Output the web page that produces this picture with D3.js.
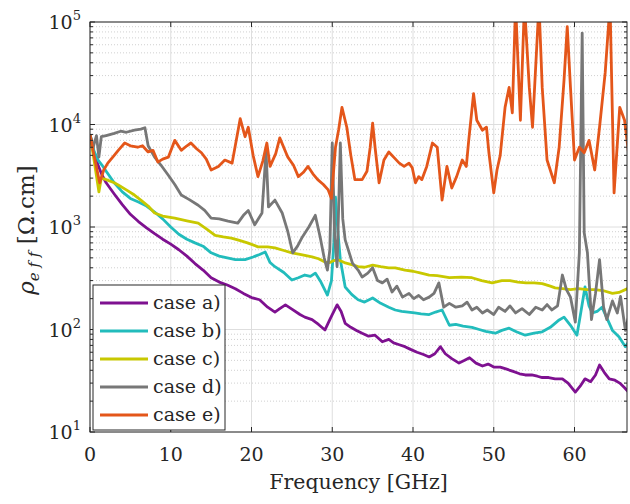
<!DOCTYPE html>
<html>
<head>
<meta charset="utf-8">
<script src="https://cdn.jsdelivr.net/npm/d3@7"></script>
<style>
  body { margin: 0; background: #fff; }
  svg text { font-family: 'DejaVu Serif', 'Times New Roman', Times, serif; }
</style>
</head>
<body>
<div id="chart"></div>
<script>
// data (frequency in GHz, rho_eff in Ohm.cm)
var freqA = [0, 0.5, 1, 1.5, 2, 3, 4, 5, 6, 7, 8, 9, 10, 11, 12, 13, 14, 15, 16, 17, 18, 19, 20, 21, 22, 22.9, 23.5, 24.2, 25, 26, 26.6, 27.5, 28.3, 29.1, 29.8, 30.6, 31.1, 31.6, 32.3, 33, 33.7, 34.5, 35.3, 36.2, 37, 37.6, 38.3, 39, 39.7, 40.5, 41.3, 42, 42.7, 43.4, 44, 44.8, 45.7, 46.4, 47, 47.8, 48.6, 49.3, 50, 50.8, 51.6, 52.4, 53.2, 53.9, 54.7, 55.4, 56, 56.8, 57.6, 58.5, 59.2, 60.1, 60.7, 61.3, 62, 62.6, 63.1, 63.7, 64.3, 65, 65.6, 66.2, 66.8];
var rhoA = [8000, 5200, 4000, 3200, 2700, 2100, 1650, 1330, 1130, 980, 860, 760, 680, 600, 520, 440, 380, 320, 290, 272, 250, 225, 205, 195, 165, 148, 160, 174, 158, 140, 132, 125, 112, 99, 130, 174, 150, 115, 105, 98, 92, 86, 88, 76, 80, 74, 71, 68, 64, 60, 57, 54, 58, 68, 58, 52, 47, 50, 53, 47, 44, 46, 43, 43, 41, 39, 37, 36, 36, 35, 34, 34, 33, 33, 30, 24.5, 28, 33, 31, 36, 45, 38, 33, 32, 30, 27, 24];

var freqB = [0, 0.5, 1, 1.5, 2, 3, 4, 5, 6, 7, 8, 9, 10, 11, 12, 13, 14, 15, 16, 17, 18, 19.2, 20.2, 21, 21.7, 22.3, 22.9, 24, 25, 25.8, 26.6, 27.3, 27.9, 28.6, 29.4, 29.9, 30.2, 30.4, 30.7, 31, 31.6, 32.4, 33.2, 34, 35, 36, 37, 37.8, 38.6, 39.4, 40.2, 41, 42, 42.8, 43.6, 44.5, 45.3, 46.2, 47.3, 48.2, 49, 50.2, 51, 51.9, 52.8, 53.9, 55, 56, 57, 58.1, 58.7, 59.5, 60.3, 60.8, 61.3, 61.8, 62.2, 62.8, 63.4, 64, 64.7, 65.5, 66.3, 66.8];
var rhoB = [8000, 5500, 4500, 4000, 3500, 2700, 2200, 1900, 1750, 1600, 1400, 1200, 1000, 850, 760, 700, 650, 560, 520, 500, 480, 480, 510, 540, 570, 450, 410, 360, 304, 320, 340, 330, 355, 290, 217, 300, 700, 1950, 900, 480, 260, 220, 195, 185, 203, 180, 165, 155, 150, 148, 145, 142, 140, 148, 155, 110, 112, 108, 105, 100, 96, 92, 98, 103, 95, 88, 92, 95, 105, 124, 132, 110, 88, 150, 260, 170, 145, 150, 165, 130, 98, 85, 68, 78];

var freqC = [0, 0.5, 1.1, 1.4, 2, 3, 3.5, 4.5, 5.5, 6.3, 7.2, 8, 9, 10.5, 12, 13.4, 14.5, 15.5, 16.5, 17.5, 18.5, 19.5, 20.8, 22, 22.9, 24, 25, 26, 27.5, 28.3, 29.1, 29.7, 30.2, 30.7, 31.5, 32.4, 33.2, 34, 35, 36, 37, 37.8, 39, 40, 41, 42, 43, 44.5, 46, 47.3, 48.5, 49.8, 51, 52, 53, 54, 55, 56, 57, 57.6, 58.5, 59.5, 60.5, 61.5, 62.5, 63.5, 64.7, 65.5, 66.8];
var rhoC = [8000, 4500, 2200, 3000, 2900, 2700, 2570, 2300, 2050, 1830, 1600, 1370, 1280, 1220, 1150, 1090, 950, 830, 800, 780, 740, 700, 640, 640, 625, 590, 560, 540, 510, 490, 455, 450, 470, 480, 450, 430, 410, 405, 425, 410, 400, 400, 380, 370, 355, 340, 335, 320, 325, 320, 300, 285, 300, 300, 290, 285, 285, 280, 265, 255, 250, 245, 250, 245, 245, 240, 225, 230, 255];

var freqD = [0, 0.4, 0.8, 1.1, 1.4, 2, 3, 3.8, 4.5, 5.5, 6.3, 6.8, 7.2, 8, 8.8, 9.7, 10.5, 11.3, 12.3, 13.4, 14.2, 15, 16, 17.1, 18.3, 19, 19.6, 20.4, 21.3, 21.8, 22.1, 22.9, 23.8, 24.5, 25.1, 25.7, 26.3, 27.1, 27.9, 28.5, 29, 29.4, 29.7, 30, 30.3, 30.6, 31, 31.3, 31.6, 32.5, 33.2, 33.7, 34.4, 35, 35.6, 36.2, 36.8, 37.4, 38, 38.7, 39.5, 40.1, 40.7, 41.3, 42, 42.6, 43.2, 43.8, 44.5, 45.3, 46.1, 46.7, 47.3, 47.9, 48.6, 49.2, 50, 50.6, 51.4, 52, 52.7, 53.5, 54.4, 55.2, 56, 56.6, 57.2, 57.9, 58.5, 59, 59.5, 60.1, 60.6, 60.95, 61.2, 61.6, 62.1, 62.6, 63.1, 63.6, 64, 64.7, 65.3, 65.7, 66.3, 66.8];
var rhoD = [8000, 6000, 7800, 4800, 7600, 7800, 8200, 8600, 8400, 8800, 9000, 9300, 6200, 4800, 4000, 3200, 2600, 2050, 1850, 1630, 1450, 1220, 1200, 1140, 1090, 1300, 1450, 1050, 1370, 5500, 1570, 1830, 1370, 900, 560, 650, 800, 1000, 1300, 800, 500, 380, 600, 6600, 800, 410, 6600, 1200, 750, 445, 380, 325, 355, 400, 300, 285, 310, 232, 265, 207, 225, 200, 215, 195, 207, 225, 285, 165, 180, 165, 170, 185, 155, 165, 145, 155, 140, 165, 150, 170, 145, 160, 140, 165, 155, 175, 155, 170, 340, 245, 207, 118, 560, 78000, 880, 560, 125, 225, 480, 165, 125, 190, 145, 210, 98, 145];

var freqE = [0, 0.5, 1.2, 1.7, 2.2, 3, 3.5, 4.3, 5, 5.9, 6.5, 7.2, 7.8, 8.4, 9, 9.7, 10.5, 11.3, 12, 12.5, 13.2, 13.8, 14.4, 15, 15.9, 16.7, 17.6, 18.6, 19.2, 19.6, 20.2, 20.8, 21.4, 21.9, 22.3, 23, 23.5, 24.5, 25.2, 25.8, 26.4, 27, 27.6, 28.2, 28.9, 29.5, 29.9, 30.4, 30.8, 31.2, 31.8, 32.3, 32.8, 33.7, 34.3, 34.7, 35, 35.3, 35.8, 36.4, 37, 37.6, 38.3, 38.9, 39.5, 39.9, 40.3, 40.7, 41.1, 41.7, 42.4, 43, 43.6, 44.2, 44.8, 45.4, 46.1, 46.6, 46.9, 47.5, 47.9, 48.6, 49.1, 49.4, 50, 50.4, 50.8, 51.4, 51.9, 52.3, 52.7, 53.3, 53.8, 54.4, 54.8, 55.6, 56, 56.6, 57.5, 58.1, 58.7, 59.1, 59.5, 60, 60.6, 61.2, 61.8, 62.5, 63.1, 63.8, 64.4, 64.9, 65.6, 66.2, 66.8];
var rhoE = [8000, 5000, 2700, 3600, 4200, 5000, 5600, 6600, 6200, 6000, 6200, 5400, 5600, 4300, 4600, 4800, 7000, 5600, 6200, 6600, 5800, 5300, 4600, 3600, 3900, 4500, 4200, 11400, 7600, 9400, 5000, 3100, 4400, 6600, 3900, 5200, 7400, 4800, 4000, 3100, 3400, 3900, 3300, 2900, 2600, 2300, 1900, 6000, 9000, 14700, 9400, 5000, 2900, 2900, 3500, 6000, 10300, 6000, 2700, 4500, 5400, 4800, 4200, 3900, 4200, 3800, 2700, 3100, 2900, 3900, 6600, 6000, 1830, 3900, 2400, 3100, 4500, 3900, 7000, 20000, 11000, 8800, 9400, 5300, 2150, 3600, 5000, 14700, 23000, 13000, 150000, 11000, 150000, 23000, 9400, 150000, 23000, 4500, 2700, 6000, 27000, 90000, 23000, 4500, 6000, 5300, 7000, 3600, 9400, 32000, 150000, 2150, 14700, 11000, 4500];

var caseNames = ['case a)', 'case b)', 'case c)', 'case d)', 'case e)'];
var caseColors = ['#7e1190', '#22bcbc', '#c8c800', '#777777', '#e4561a'];
var xTicks = [0, 10, 20, 30, 40, 50, 60];
var yTicks = [1e1, 1e2, 1e3, 1e4, 1e5];

var series = [
    { f: freqA, v: rhoA },
    { f: freqB, v: rhoB },
    { f: freqC, v: rhoC },
    { f: freqD, v: rhoD },
    { f: freqE, v: rhoE }
];

var W = 630, H = 504;
var margin = { left: 90, top: 22, right: 3, bottom: 72 };
var pw = W - margin.left - margin.right;
var ph = H - margin.top - margin.bottom;

var svg = d3.select('#chart').append('svg')
    .attr('width', W)
    .attr('height', H);

var xScale = d3.scaleLinear().domain([0, 66.5]).range([margin.left, margin.left + pw]);
var yScale = d3.scaleLog().domain([10, 1e5]).range([margin.top + ph, margin.top]);

// minor log values
var minor = [];
for (var e = 1; e < 5; e++) {
    for (var k = 2; k <= 9; k++) minor.push(k * Math.pow(10, e));
}

// grid
var grid = svg.append('g');
grid.selectAll('.gminor').data(minor).enter().append('line')
    .attr('x1', margin.left).attr('x2', margin.left + pw)
    .attr('y1', d => yScale(d)).attr('y2', d => yScale(d))
    .style('stroke', '#d0d0d0').style('stroke-width', 1)
    .style('stroke-dasharray', '1,2');
grid.selectAll('.gy').data(yTicks).enter().append('line')
    .attr('x1', margin.left).attr('x2', margin.left + pw)
    .attr('y1', d => yScale(d)).attr('y2', d => yScale(d))
    .style('stroke', '#dedede').style('stroke-width', 1);
grid.selectAll('.gx').data(xTicks).enter().append('line')
    .attr('x1', d => xScale(d)).attr('x2', d => xScale(d))
    .attr('y1', margin.top).attr('y2', margin.top + ph)
    .style('stroke', '#dedede').style('stroke-width', 1);

// clip
svg.append('clipPath').attr('id', 'plotclip')
    .append('rect')
    .attr('x', margin.left).attr('y', margin.top)
    .attr('width', pw).attr('height', ph);

var line = d3.line()
    .x(d => xScale(d[0]))
    .y(d => yScale(d[1]));

svg.append('g').attr('clip-path', 'url(#plotclip)')
    .selectAll('path')
    .data(series)
    .enter()
    .append('path')
    .attr('d', d => line(d.f.map((f, i) => [f, d.v[i]])))
    .style('fill', 'none')
    .style('stroke', (d, i) => caseColors[i])
    .style('stroke-width', 2.8)
    .style('stroke-linejoin', 'round');

// axes (MATLAB style box, ticks inside)
var axisColor = '#262626';
var ax = svg.append('g');
ax.append('rect')
    .attr('x', margin.left).attr('y', margin.top)
    .attr('width', pw).attr('height', ph)
    .style('fill', 'none').style('stroke', axisColor).style('stroke-width', 1);

var yBottom = margin.top + ph;
xTicks.forEach(function (t) {
    ax.append('line').attr('x1', xScale(t)).attr('x2', xScale(t))
        .attr('y1', yBottom).attr('y2', yBottom - 5)
        .style('stroke', axisColor);
    ax.append('line').attr('x1', xScale(t)).attr('x2', xScale(t))
        .attr('y1', margin.top).attr('y2', margin.top + 5)
        .style('stroke', axisColor);
});
yTicks.concat(minor).forEach(function (t) {
    var len = yTicks.indexOf(t) >= 0 ? 5 : 3;
    ax.append('line').attr('x1', margin.left).attr('x2', margin.left + len)
        .attr('y1', yScale(t)).attr('y2', yScale(t))
        .style('stroke', axisColor);
    ax.append('line').attr('x1', margin.left + pw).attr('x2', margin.left + pw - len)
        .attr('y1', yScale(t)).attr('y2', yScale(t))
        .style('stroke', axisColor);
});

// tick labels
svg.selectAll('.xlab').data(xTicks).enter().append('text')
    .attr('x', d => xScale(d))
    .attr('y', yBottom + 29)
    .attr('fill', axisColor)
    .style('text-anchor', 'middle')
    .style('font-size', '19px')
    .text(d => d);

var ylab = svg.selectAll('.ylab').data(yTicks).enter().append('text')
    .attr('x', margin.left - 9)
    .attr('y', d => yScale(d) + 7)
    .attr('fill', axisColor)
    .style('text-anchor', 'end')
    .style('font-size', '19px');
ylab.append('tspan').text('10');
ylab.append('tspan').attr('dy', -9).style('font-size', '13px').text(d => Math.round(Math.log10(d)));

// axis titles
svg.append('text')
    .attr('x', margin.left + pw / 2)
    .attr('y', 489)
    .attr('fill', axisColor)
    .style('text-anchor', 'middle')
    .style('font-size', '20.5px')
    .text('Frequency [GHz]');

var yt = svg.append('text')
    .attr('transform', 'translate(34,' + 230 + ') rotate(-90)')
    .attr('fill', axisColor)
    .style('text-anchor', 'middle')
    .style('font-size', '23px');
yt.append('tspan').style('font-style', 'italic').text('ρ');
yt.append('tspan').attr('dy', 5).style('font-style', 'italic').style('font-size', '15px').text('e f f');
yt.append('tspan').attr('dy', -5).text(' [Ω.cm]');

// legend
var lg = svg.append('g');
lg.append('rect')
    .attr('x', 93).attr('y', 285)
    .attr('width', 132).attr('height', 145)
    .style('fill', '#fff').style('stroke', axisColor).style('stroke-width', 1);
caseNames.forEach(function (name, i) {
    var yy = 303 + i * 28;
    lg.append('line')
        .attr('x1', 100).attr('x2', 148)
        .attr('y1', yy).attr('y2', yy)
        .style('stroke', caseColors[i]).style('stroke-width', 2.8);
    lg.append('text')
        .attr('x', 153).attr('y', yy + 6)
        .attr('fill', axisColor)
        .style('font-size', '19px')
        .text(name);
});
</script>
</body>
</html>
